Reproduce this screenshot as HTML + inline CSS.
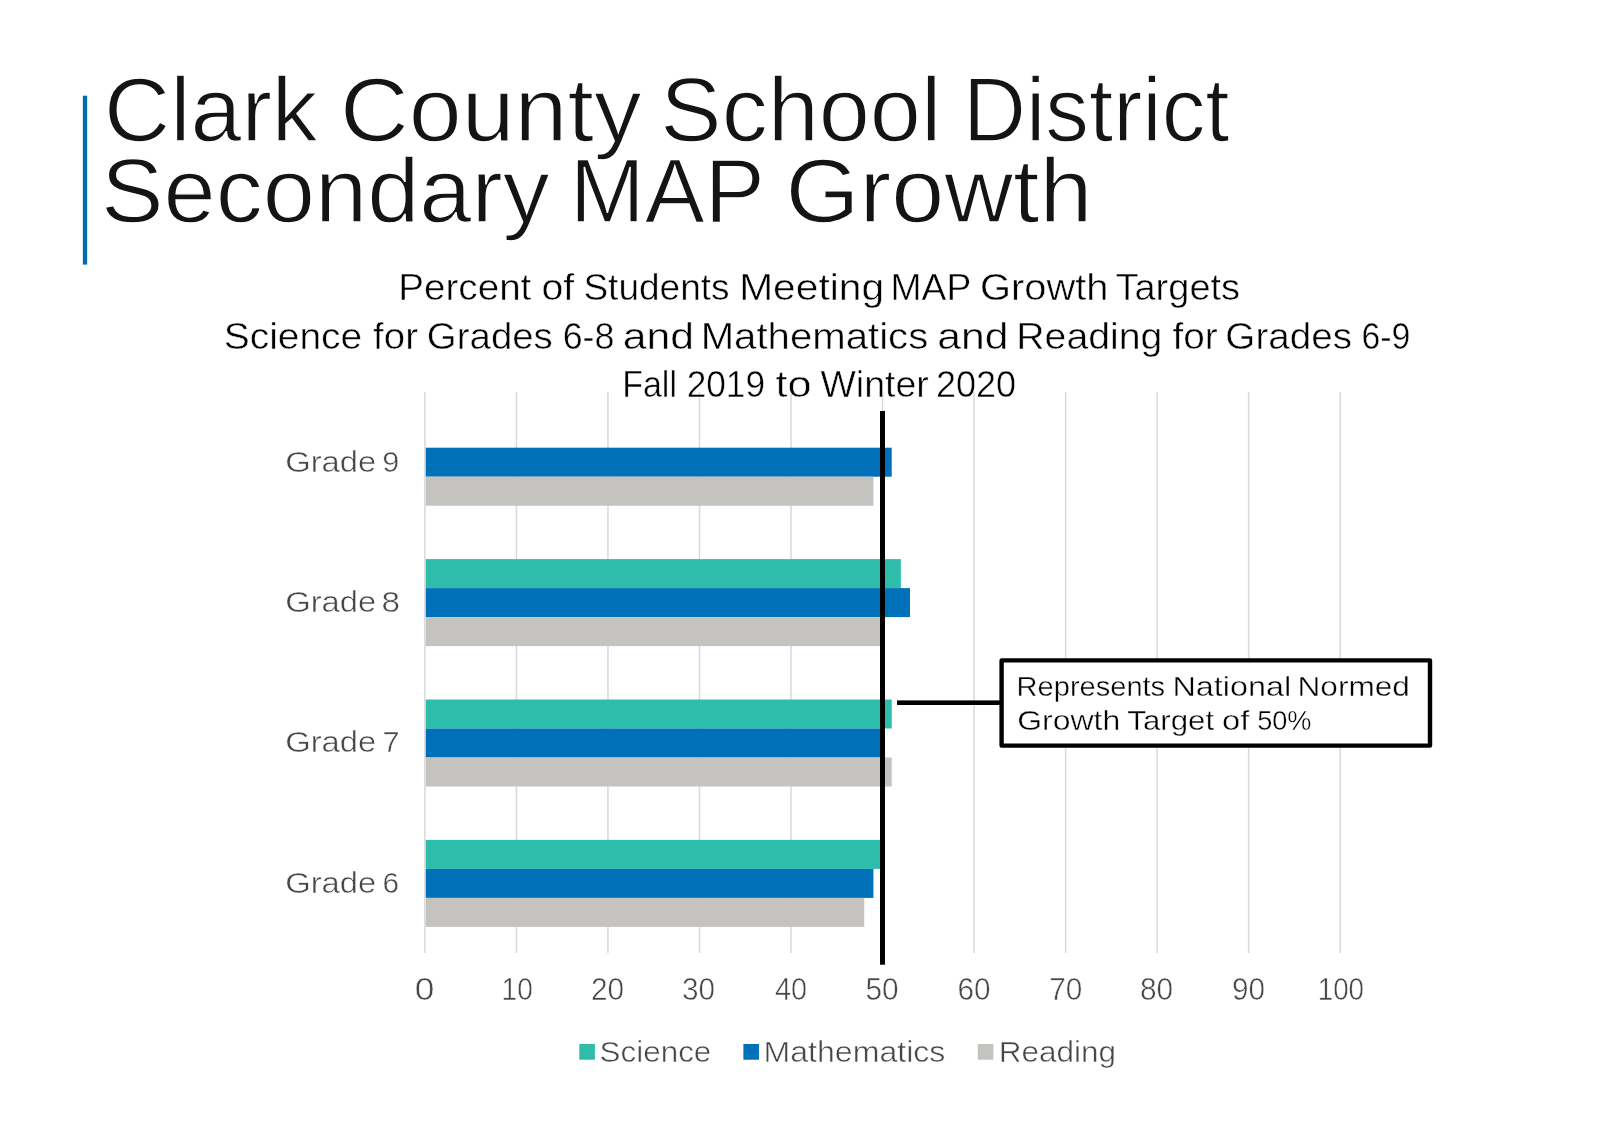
<!DOCTYPE html>
<html lang="en">
<head>
<meta charset="utf-8">
<title>Clark County School District Secondary MAP Growth</title>
<style>
html,body{margin:0;padding:0;background:#fff;}
body{width:1600px;height:1135px;overflow:hidden;}
svg{display:block;will-change:transform;font-family:"Liberation Sans", sans-serif;}
text{white-space:pre;}
</style>
</head>
<body>
<svg role="img" aria-label="Clark County School District Secondary MAP Growth chart" width="1600" height="1135" viewBox="0 0 1600 1135">
<rect width="1600" height="1135" fill="#ffffff"/>
<rect x="82.85" y="95.7" width="4.3" height="168.9" fill="#006cb6"/>
<g id="title">
<text id="t1" y="140.80" font-size="90.3" fill="#141414" stroke="#fff" stroke-width="1.4"><tspan id="t1_0" x="104.07" textLength="213.56" lengthAdjust="spacingAndGlyphs">Clark</tspan> <tspan id="t1_1" x="340.05" textLength="301.46" lengthAdjust="spacingAndGlyphs">County</tspan> <tspan id="t1_2" x="660.37" textLength="281.05" lengthAdjust="spacingAndGlyphs">School</tspan> <tspan id="t1_3" x="963.01" textLength="266.48" lengthAdjust="spacingAndGlyphs">District</tspan></text>
<text id="t2" y="222.20" font-size="90.3" fill="#141414" stroke="#fff" stroke-width="1.4"><tspan id="t2_0" x="101.03" textLength="448.75" lengthAdjust="spacingAndGlyphs">Secondary</tspan> <tspan id="t2_1" x="569.85" textLength="193.39" lengthAdjust="spacingAndGlyphs">MAP</tspan> <tspan id="t2_2" x="785.56" textLength="306.83" lengthAdjust="spacingAndGlyphs">Growth</tspan></text>
</g>
<g id="chart">
<rect x="424.15" y="392" width="1.5" height="561" fill="#d9d9d9"/><rect x="515.68" y="392" width="1.5" height="561" fill="#d9d9d9"/><rect x="607.21" y="392" width="1.5" height="561" fill="#d9d9d9"/><rect x="698.74" y="392" width="1.5" height="561" fill="#d9d9d9"/><rect x="790.27" y="392" width="1.5" height="561" fill="#d9d9d9"/><rect x="881.80" y="392" width="1.5" height="561" fill="#d9d9d9"/><rect x="973.33" y="392" width="1.5" height="561" fill="#d9d9d9"/><rect x="1064.86" y="392" width="1.5" height="561" fill="#d9d9d9"/><rect x="1156.39" y="392" width="1.5" height="561" fill="#d9d9d9"/><rect x="1247.92" y="392" width="1.5" height="561" fill="#d9d9d9"/><rect x="1339.45" y="392" width="1.5" height="561" fill="#d9d9d9"/>
<rect x="425.80" y="447.70" width="465.90" height="29.00" fill="#0070b8"/><rect x="425.80" y="476.70" width="447.60" height="29.00" fill="#c4c3bf"/><rect x="425.80" y="559.10" width="475.06" height="29.00" fill="#2ebdab"/><rect x="425.80" y="588.10" width="484.21" height="29.00" fill="#0070b8"/><rect x="425.80" y="617.10" width="456.75" height="29.00" fill="#c4c3bf"/><rect x="425.80" y="699.50" width="465.90" height="29.00" fill="#2ebdab"/><rect x="425.80" y="728.50" width="456.75" height="29.00" fill="#0070b8"/><rect x="425.80" y="757.50" width="465.90" height="29.00" fill="#c4c3bf"/><rect x="425.80" y="839.90" width="456.75" height="29.00" fill="#2ebdab"/><rect x="425.80" y="868.90" width="447.60" height="29.00" fill="#0070b8"/><rect x="425.80" y="897.90" width="438.44" height="29.00" fill="#c4c3bf"/>
<g id="subtitle">
<text id="s1" y="300.20" font-size="36.8" fill="#000" stroke="#fff" stroke-width="0.5"><tspan id="s1_0" x="398.18" textLength="133.20" lengthAdjust="spacingAndGlyphs">Percent</tspan> <tspan id="s1_1" x="541.44" textLength="32.73" lengthAdjust="spacingAndGlyphs">of</tspan> <tspan id="s1_2" x="583.40" textLength="146.21" lengthAdjust="spacingAndGlyphs">Students</tspan> <tspan id="s1_3" x="739.15" textLength="144.97" lengthAdjust="spacingAndGlyphs">Meeting</tspan> <tspan id="s1_4" x="890.64" textLength="79.95" lengthAdjust="spacingAndGlyphs">MAP</tspan> <tspan id="s1_5" x="980.13" textLength="128.38" lengthAdjust="spacingAndGlyphs">Growth</tspan> <tspan id="s1_6" x="1115.47" textLength="124.62" lengthAdjust="spacingAndGlyphs">Targets</tspan></text>
<text id="s2" y="348.80" font-size="36.8" fill="#000" stroke="#fff" stroke-width="0.5"><tspan id="s2_0" x="223.67" textLength="138.63" lengthAdjust="spacingAndGlyphs">Science</tspan> <tspan id="s2_1" x="373.14" textLength="44.86" lengthAdjust="spacingAndGlyphs">for</tspan> <tspan id="s2_2" x="426.87" textLength="125.97" lengthAdjust="spacingAndGlyphs">Grades</tspan> <tspan id="s2_3" x="562.66" textLength="51.79" lengthAdjust="spacingAndGlyphs">6-8</tspan> <tspan id="s2_4" x="622.71" textLength="71.26" lengthAdjust="spacingAndGlyphs">and</tspan> <tspan id="s2_5" x="700.67" textLength="227.58" lengthAdjust="spacingAndGlyphs">Mathematics</tspan> <tspan id="s2_6" x="937.24" textLength="71.18" lengthAdjust="spacingAndGlyphs">and</tspan> <tspan id="s2_7" x="1016.28" textLength="146.17" lengthAdjust="spacingAndGlyphs">Reading</tspan> <tspan id="s2_8" x="1172.60" textLength="45.16" lengthAdjust="spacingAndGlyphs">for</tspan> <tspan id="s2_9" x="1225.37" textLength="126.61" lengthAdjust="spacingAndGlyphs">Grades</tspan> <tspan id="s2_10" x="1361.46" textLength="48.95" lengthAdjust="spacingAndGlyphs">6-9</tspan></text>
<text id="s3" y="397.20" font-size="36.8" fill="#000" stroke="#fff" stroke-width="0.5"><tspan id="s3_0" x="622.17" textLength="54.78" lengthAdjust="spacingAndGlyphs">Fall</tspan> <tspan id="s3_1" x="686.63" textLength="78.35" lengthAdjust="spacingAndGlyphs">2019</tspan> <tspan id="s3_2" x="775.59" textLength="36.11" lengthAdjust="spacingAndGlyphs">to</tspan> <tspan id="s3_3" x="820.52" textLength="108.23" lengthAdjust="spacingAndGlyphs">Winter</tspan> <tspan id="s3_4" x="935.91" textLength="80.11" lengthAdjust="spacingAndGlyphs">2020</tspan></text>
</g>
<rect x="880" y="411" width="5" height="553.7" fill="#000"/>
<rect x="897" y="700.4" width="104" height="4.6" fill="#000"/>
<rect x="1001.6" y="660.4" width="428.4" height="85.2" fill="#fff" stroke="#000" stroke-width="4.4" stroke-linejoin="round"/>
<text id="c1" y="695.90" font-size="28.0" fill="#000" stroke="#fff" stroke-width="0.4"><tspan id="c1_0" x="1016.62" textLength="148.54" lengthAdjust="spacingAndGlyphs">Represents</tspan> <tspan id="c1_1" x="1172.53" textLength="118.67" lengthAdjust="spacingAndGlyphs">National</tspan> <tspan id="c1_2" x="1297.47" textLength="112.49" lengthAdjust="spacingAndGlyphs">Normed</tspan></text>
<text id="c2" y="730.20" font-size="28.0" fill="#000" stroke="#fff" stroke-width="0.4"><tspan id="c2_0" x="1017.21" textLength="102.99" lengthAdjust="spacingAndGlyphs">Growth</tspan> <tspan id="c2_1" x="1127.32" textLength="86.76" lengthAdjust="spacingAndGlyphs">Target</tspan> <tspan id="c2_2" x="1221.93" textLength="27.32" lengthAdjust="spacingAndGlyphs">of</tspan> <tspan id="c2_3" x="1257.14" textLength="54.36" lengthAdjust="spacingAndGlyphs">50%</tspan></text>
<g id="cats">
<text id="g9" y="472.00" font-size="30" fill="#464646" stroke="#fff" stroke-width="0.5"><tspan id="g9_0" x="285.18" textLength="91.09" lengthAdjust="spacingAndGlyphs">Grade</tspan> <tspan id="g9_1" x="382.20" textLength="17.10" lengthAdjust="spacingAndGlyphs">9</tspan></text>
<text id="g8" y="611.60" font-size="30" fill="#464646" stroke="#fff" stroke-width="0.5"><tspan id="g8_0" x="285.18" textLength="91.09" lengthAdjust="spacingAndGlyphs">Grade</tspan> <tspan id="g8_1" x="381.59" textLength="18.51" lengthAdjust="spacingAndGlyphs">8</tspan></text>
<text id="g7" y="752.20" font-size="30" fill="#464646" stroke="#fff" stroke-width="0.5"><tspan id="g7_0" x="285.18" textLength="91.09" lengthAdjust="spacingAndGlyphs">Grade</tspan> <tspan id="g7_1" x="382.52" textLength="17.08" lengthAdjust="spacingAndGlyphs">7</tspan></text>
<text id="g6" y="892.60" font-size="30" fill="#464646" stroke="#fff" stroke-width="0.5"><tspan id="g6_0" x="285.18" textLength="91.09" lengthAdjust="spacingAndGlyphs">Grade</tspan> <tspan id="g6_1" x="382.54" textLength="16.56" lengthAdjust="spacingAndGlyphs">6</tspan></text>
</g>
<g id="axis">
<text id="a0" x="414.66" y="999.70" font-size="30.6" fill="#464646" stroke="#fff" stroke-width="0.5" textLength="19.65" lengthAdjust="spacingAndGlyphs">0</text><text id="a10" x="501.53" y="999.70" font-size="30.6" fill="#464646" stroke="#fff" stroke-width="0.5" textLength="31.22" lengthAdjust="spacingAndGlyphs">10</text><text id="a20" x="591.02" y="999.70" font-size="30.6" fill="#464646" stroke="#fff" stroke-width="0.5" textLength="33.13" lengthAdjust="spacingAndGlyphs">20</text><text id="a30" x="681.90" y="999.70" font-size="30.6" fill="#464646" stroke="#fff" stroke-width="0.5" textLength="33.05" lengthAdjust="spacingAndGlyphs">30</text><text id="a40" x="775.01" y="999.70" font-size="30.6" fill="#464646" stroke="#fff" stroke-width="0.5" textLength="32.08" lengthAdjust="spacingAndGlyphs">40</text><text id="a50" x="865.38" y="999.70" font-size="30.6" fill="#464646" stroke="#fff" stroke-width="0.5" textLength="33.17" lengthAdjust="spacingAndGlyphs">50</text><text id="a60" x="957.59" y="999.70" font-size="30.6" fill="#464646" stroke="#fff" stroke-width="0.5" textLength="33.00" lengthAdjust="spacingAndGlyphs">60</text><text id="a70" x="1049.23" y="999.70" font-size="30.6" fill="#464646" stroke="#fff" stroke-width="0.5" textLength="33.09" lengthAdjust="spacingAndGlyphs">70</text><text id="a80" x="1139.92" y="999.70" font-size="30.6" fill="#464646" stroke="#fff" stroke-width="0.5" textLength="33.12" lengthAdjust="spacingAndGlyphs">80</text><text id="a90" x="1231.90" y="999.70" font-size="30.6" fill="#464646" stroke="#fff" stroke-width="0.5" textLength="33.05" lengthAdjust="spacingAndGlyphs">90</text><text id="a100" x="1317.73" y="999.70" font-size="30.6" fill="#464646" stroke="#fff" stroke-width="0.5" textLength="46.30" lengthAdjust="spacingAndGlyphs">100</text>
</g>
<g id="legend">
<rect x="579.3" y="1044" width="15.6" height="15.7" fill="#2ebdab"/><rect x="743.4" y="1044" width="15.6" height="15.7" fill="#0070b8"/><rect x="977.8" y="1044" width="15.6" height="15.7" fill="#c4c3bf"/>
<text id="l1" x="599.56" y="1061.80" font-size="30" fill="#464646" stroke="#fff" stroke-width="0.5" textLength="111.77" lengthAdjust="spacingAndGlyphs">Science</text>
<text id="l2" x="763.40" y="1061.80" font-size="30" fill="#464646" stroke="#fff" stroke-width="0.5" textLength="182.03" lengthAdjust="spacingAndGlyphs">Mathematics</text>
<text id="l3" x="998.71" y="1061.80" font-size="30" fill="#464646" stroke="#fff" stroke-width="0.5" textLength="117.44" lengthAdjust="spacingAndGlyphs">Reading</text>
</g>
</g>
</svg>
</body>
</html>
